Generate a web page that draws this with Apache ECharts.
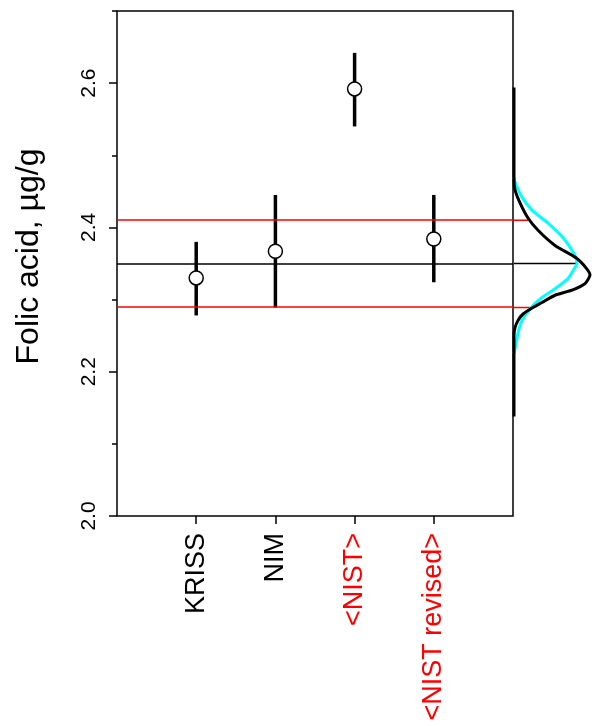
<!DOCTYPE html>
<html>
<head>
  <meta charset="utf-8">
  <script src="https://cdn.jsdelivr.net/npm/echarts@6/dist/echarts.min.js"></script>
</head>
<body style="margin: 0; background: #fff">
  <div id="container" style="width: 592px; height: 726px"></div>
  <script type="text/javascript">
    // labs and their results (mean, lower, upper), ug/g
    var labs = ['KRISS', 'NIM', '<NIST>', '<NIST revised>'];
    var labColors = ['#000', '#000', '#ff0000', '#ff0000'];
    var means = [2.330, 2.367, 2.592, 2.384];
    var lows = [2.278, 2.289, 2.540, 2.324];
    var highs = [2.380, 2.445, 2.642, 2.445];

    // consensus value and its interval
    var consensus = 2.350;
    var consLow = 2.289;
    var consHigh = 2.410;
    // where those lines meet the black density curve
    var consReach = [64, 18, 14];

    var yMajor = [2.0, 2.2, 2.4, 2.6];
    var yMinor = [2.1, 2.3, 2.5, 2.7];

    // density curves on the right: [density, value]
    var densBlack = [
      [0, 2.594], [0, 2.466], [1, 2.452], [6, 2.434], [14, 2.413], [24, 2.396],
      [41, 2.375], [62, 2.358], [72, 2.344], [76, 2.334], [71, 2.322], [58, 2.313],
      [41, 2.306], [28, 2.296], [19, 2.289], [9, 2.280], [4, 2.271], [1, 2.261],
      [0, 2.250], [0, 2.138]
    ];
    var densCyan = [
      [0, 2.470], [1, 2.463], [8, 2.442], [18, 2.424], [34, 2.406], [49, 2.386],
      [61, 2.361], [63, 2.350], [59, 2.340], [54, 2.329], [41, 2.315], [28, 2.303],
      [16, 2.287], [8, 2.271], [4, 2.254], [2, 2.239], [0, 2.225]
    ];

    var font = 'Liberation Sans, Arial, sans-serif';
    var myChart = echarts.init(document.getElementById('container'), null, { renderer: 'canvas' });

    var bars = labs.map(function (l, i) { return [i + 1, lows[i], highs[i]]; });
    var points = labs.map(function (l, i) { return [i + 1, means[i]]; });

    function hSeg(v, reach, color) {
      return {
        type: 'line', xAxisIndex: 1, yAxisIndex: 2, symbol: 'none', silent: true,
        data: [[0, v], [reach, v]],
        lineStyle: { color: color, width: 1.5 }, z: 2
      };
    }

    var option = {
      animation: false,
      grid: [
        {
          left: 117, top: 11, width: 396, height: 505, outerBoundsMode: 'none',
          show: true, borderColor: '#000', borderWidth: 1.5
        },
        { left: 514, top: 11, width: 78, height: 505, outerBoundsMode: 'none' }
      ],
      xAxis: [
        {
          type: 'value', gridIndex: 0, min: 0, max: 5,
          axisLine: { show: false },
          splitLine: { show: false },
          axisTick: { show: true, length: 8, customValues: [1, 2, 3, 4], lineStyle: { color: '#000', width: 1.5 } },
          axisLabel: {
            customValues: [1, 2, 3, 4],
            rotate: 90, margin: 17,
            fontFamily: font, fontSize: 27,
            formatter: function (v) { return labs[Math.round(v) - 1] || ''; },
            color: function (v) { return labColors[Math.round(v) - 1] || '#000'; }
          }
        },
        { type: 'value', gridIndex: 1, min: 0, max: 78, show: false }
      ],
      yAxis: [
        {
          type: 'value', gridIndex: 0, min: 2.0, max: 2.7,
          axisLine: { show: false },
          splitLine: { show: false },
          axisTick: { show: true, length: 8, customValues: yMajor, lineStyle: { color: '#000', width: 1.5 } },
          axisLabel: {
            customValues: yMajor,
            rotate: 90, margin: 17,
            fontFamily: font, fontSize: 21, color: '#000',
            formatter: function (v) { return v.toFixed(1); }
          },
          name: 'Folic acid, µg/g',
          nameLocation: 'middle', nameGap: 72,
          nameTextStyle: { fontFamily: font, fontSize: 32, color: '#000', padding: [0, 0, 0, 14] }
        },
        {
          type: 'value', gridIndex: 0, min: 2.0, max: 2.7, position: 'left',
          axisLine: { show: false },
          splitLine: { show: false },
          axisLabel: { show: false },
          axisTick: { show: true, length: 5, customValues: yMinor, lineStyle: { color: '#000', width: 1.5 } }
        },
        { type: 'value', gridIndex: 1, min: 2.0, max: 2.7, show: false }
      ],
      series: [
        {
          type: 'line', xAxisIndex: 0, yAxisIndex: 0, data: [], silent: true,
          markLine: {
            silent: true, symbol: 'none', label: { show: false },
            data: [
              { yAxis: consHigh, lineStyle: { color: '#ff0000', width: 1.5, type: 'solid' } },
              { yAxis: consLow, lineStyle: { color: '#ff0000', width: 1.5, type: 'solid' } },
              { yAxis: consensus, lineStyle: { color: '#000', width: 1.5, type: 'solid' } }
            ]
          }
        },
        {
          type: 'custom', xAxisIndex: 0, yAxisIndex: 0, data: bars, z: 3,
          encode: { x: 0, y: [1, 2] },
          renderItem: function (params, api) {
            var p1 = api.coord([api.value(0), api.value(1)]);
            var p2 = api.coord([api.value(0), api.value(2)]);
            return {
              type: 'line',
              shape: { x1: p1[0], y1: p1[1], x2: p2[0], y2: p2[1] },
              style: { stroke: '#000', lineWidth: 3.5 }
            };
          }
        },
        {
          type: 'scatter', xAxisIndex: 0, yAxisIndex: 0, data: points, z: 4,
          symbol: 'circle', symbolSize: 14,
          itemStyle: { color: '#fff', borderColor: '#000', borderWidth: 1.5, opacity: 1 }
        },
        hSeg(consensus, consReach[0], '#000'),
        hSeg(consLow, consReach[1], '#ff0000'),
        hSeg(consHigh, consReach[2], '#ff0000'),
        {
          type: 'line', xAxisIndex: 1, yAxisIndex: 2, data: densCyan, symbol: 'none', smooth: 0.2,
          lineStyle: { color: '#00ffff', width: 3 }, z: 3
        },
        {
          type: 'line', xAxisIndex: 1, yAxisIndex: 2, data: densBlack, symbol: 'none', smooth: 0.2,
          lineStyle: { color: '#000', width: 3 }, z: 4
        }
      ]
    };

    myChart.setOption(option);
    window.addEventListener('resize', myChart.resize);
  </script>
</body>
</html>
